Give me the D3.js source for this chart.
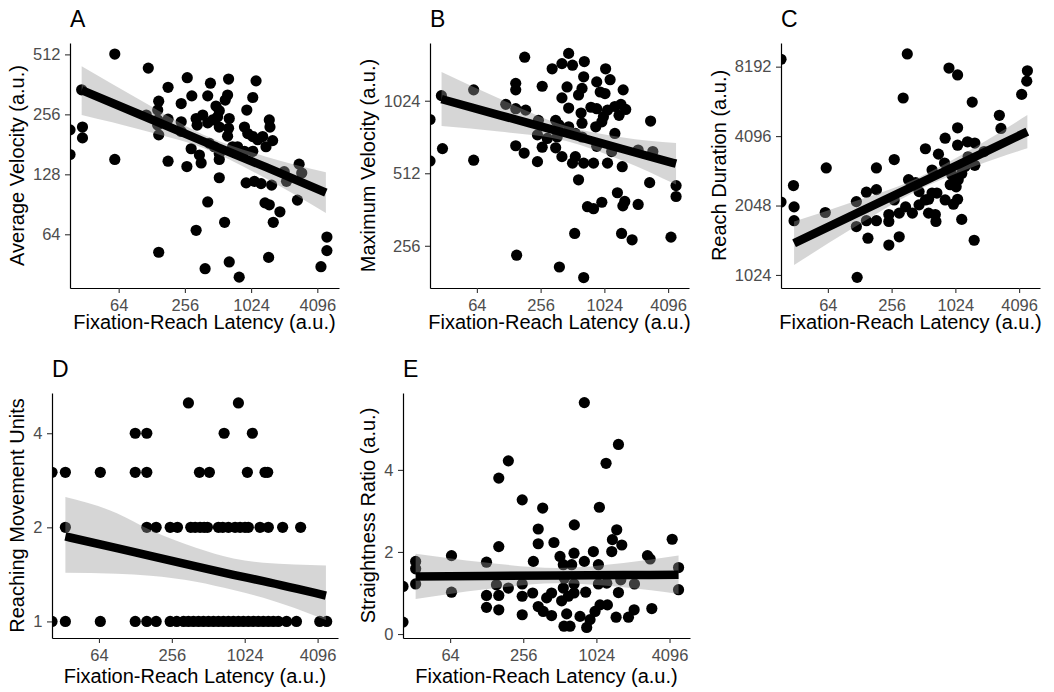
<!DOCTYPE html>
<html>
<head>
<meta charset="utf-8">
<script src="https://cdn.jsdelivr.net/npm/d3@7"></script>
<style>
  body { margin: 0; background: #fff; }
  svg { display: block; font-family: "Liberation Sans", Arial, Helvetica, sans-serif; }
</style>
</head>
<body>
<svg id="chart" width="1054" height="692"></svg>
<script>
// [latency, value] per participant; latency 0 sits on the left edge (log of 0)
const averageVelocity = [
  [59,514],[119,437],[269,391],[437,367],[639,385],[1136,377],[180,350],[29.5,340],[296,317],[413,317],
  [626,320],[596,302],[1060,311],[148,298],[145,269],[237,290],[491,282],[526,267],[936,269],[0,214],
  [0,161],[30,221],[30,195],[114,254],[145,240],[145,226],[148,202],[180,242],[237,235],[237,210],
  [324,244],[331,226],[372,254],[413,232],[458,240],[508,249],[526,221],[648,244],[639,218],[626,199],
  [891,221],[955,205],[1060,198],[1176,191],[1305,198],[1499,240],[1520,221],[1607,189],[1399,176],[59,152],
  [180,149],[267,140],[292,172],[347,160],[360,146],[428,183],[474,176],[526,163],[526,152],[526,123],
  [695,176],[771,176],[891,167],[1060,167],[923,116],[1097,118],[1261,115],[1574,113],[2048,132],[2150,118],
  [2798,144],[2957,130],[413,93],[1370,92],[1499,90],[1872,83],[1629,73.5],[588,73.5],[324,67],[2702,95],
  [5007,62],[5007,53],[4420,44],[148,52],[391,43],[648,46.5],[798,39],[1478,49]
];
const maximumVelocity = [
  [181,1552],[471,1610],[407,1460],[512,1438],[662,1489],[329,1389],[1052,1389],[1160,1252],[867,1226],[653,1287],
  [455,1168],[630,1152],[149,1209],[149,1136],[265,1176],[407,1052],[584,1082],[936,1113],[1038,1097],[1541,1136],
  [29.6,1075],[59.7,1136],[0,856],[0,576],[30.3,648],[59.7,580],[120,989],[149,949],[185,936],[244,849],
  [355,849],[471,955],[617,910],[630,826],[765,962],[867,949],[1003,879],[1097,936],[1287,969],[1468,989],
  [1629,942],[1409,891],[849,798],[969,837],[2798,843],[380,814],[471,798],[239,739],[296,714],[367,724],
  [545,749],[630,724],[1287,749],[149,666],[179,621],[265,657],[355,653],[407,600],[512,564],[545,600],
  [653,564],[809,564],[867,662],[1097,564],[1201,630],[2135,639],[2936,630],[239,572],[1510,545],[584,481],
  [2741,468],[4870,455],[4870,410],[1360,425],[1596,391],[1531,375],[2135,380],[709,372],[809,365],[969,388],
  [537,288],[1489,288],[1872,271],[4359,278],[152,234],[385,209],[653,189]
];
const reachDuration = [
  [0,8820],[360,9300],[891,8080],[1075,7540],[4904,7860],[4837,7090],[4330,6210],[329,5990],[1478,5750],[2665,5040],
  [2759,4420],[1075,4450],[820,4010],[1075,3740],[1333,3870],[1563,3820],[1911,3510],[534,3610],[709,3420],[271,3240],
  [61.8,2980],[184,2980],[617,2920],[809,3130],[949,2780],[1176,2820],[1261,3020],[1563,3060],[370,2650],[30.3,2500],
  [0,2120],[30.7,2020],[30.7,1760],[60.5,1910],[119,2130],[119,1660],[148,2340],[184,2400],[148,1760],[184,1760],
  [153,1478],[241,1872],[241,1746],[241,1380],[302,1499],[302,1898],[271,2165],[347,2020],[402,1898],[465,2062],
  [534,2165],[465,2353],[572,1898],[662,1872],[671,1746],[617,2320],[685,2320],[572,2180],[820,2165],[982,2076],
  [1075,2180],[916,2521],[1090,2650],[1042,2469],[1176,1783],[1541,1448],[1351,3330],[431,2575],[121,1000]
];
const movementUnits = [
  [351,5],[908,5],
  [127.6,4],[159,4],[692,4],[1184,4],
  [0,3],[33.8,3],[65.7,3],[127.6,3],[159,3],[433,3],[523,3],[1077,3],[1506,3],[1585,3],
  [33.8,2],[159,2],[190,2],[248,2],[285,2],[367,2],[399,2],[438,2],[473,2],[504,2],
  [621,2],[674,2],[751,2],[852,2],[937,2],[1030,2],[1097,2],[1370,2],[1605,2],[2107,2],[2966,2],
  [0,1],[33.8,1],[65.7,1],[127.6,1],[159,1],[190,1],[248,1],[281,1],[320,1],[351,1],
  [386,1],[425,1],[467,1],[514,1],[565,1],[621,1],[683,1],[751,1],[826,1],[908,1],
  [998,1],[1097,1],[1207,1],[1327,1],[1459,1],[1605,1],[1764,1],[1940,1],[2270,1],[2740,1],
  [4270,1],[4870,1]
];
const straightnessRatio = [
  [0,1.16],[0,0.29],[33.3,1.77],[33.3,1.59],[33.3,1.22],[65.7,1.91],[65.7,1.02],[127.6,1.75],[127.6,0.94],[127.6,0.65],
  [161,2.13],[161,3.8],[161,0.94],[161,0.59],[193,4.22],[193,1.12],[154,1.2],[251,3.27],[251,1.22],[251,0.92],
  [251,0.47],[310,1.77],[340,2.56],[340,2.2],[370,3.07],[306,1.0],[340,0.67],[374,0.55],[399,0.88],[438,0.45],
  [458,2.23],[438,1.0],[514,1.89],[530,0.81],[547,1.69],[558,1.36],[602,0.92],[554,0.19],[621,0.19],[583,0.49],
  [674,2.66],[670,1.97],[641,1.69],[670,1.22],[670,1.0],[751,0.43],[815,1.77],[836,1.02],[852,0.16],[908,0.35],
  [967,2.01],[998,0.55],[1064,1.69],[1084,3.09],[1064,1.22],[1097,0.71],[1230,4.16],[1246,1.24],[1262,0.71],[1370,2.01],
  [1387,2.3],[1506,2.54],[1555,4.62],[1555,1.01],[1488,0.41],[1657,2.17],[1626,1.32],[1881,0.41],[2094,0.59],[2107,1.22],
  [2697,1.91],[2836,1.83],[2928,0.62],[4308,2.31],[4861,1.62],[4861,1.08],[815,5.64],[547,1.12]
];

// fitted line and 95% band, sampled along latency
const fitLatencyA = [29.5, 106, 372, 1399, 4900];
const fitA = [339, 252, 188, 139, 103.5];
const lowerA = [254, 213, 174, 122, 81.9];
const upperA = [447, 297, 203, 157, 131];

const fitLatencyB = [29.7, 104, 439, 1488, 4867];
const fitB = [1040, 893, 751, 647, 561];
const lowerB = [804, 763, 698, 580, 460];
const upperB = [1347, 1046, 807, 723, 684];

const fitLatencyC = [30.7, 103, 432, 1561, 4898];
const fitC = [1405, 1834, 2509, 3329, 4282];
const lowerC = [1131, 1603, 2357, 3028, 3625];
const upperC = [1744, 2100, 2672, 3660, 5056];

const fitLatencyD = [33.8, 90, 170, 405, 826, 1458, 4800];
const fitD = [1.87, 1.715, 1.62, 1.50, 1.41, 1.345, 1.21];
const lowerD = [1.43, 1.42, 1.40, 1.34, 1.26, 1.19, 1.01];
const upperD = [2.50, 2.22, 1.96, 1.72, 1.59, 1.54, 1.51];

const fitLatencyE = [33.3, 120, 482, 1711, 4861];
const fitE = [1.404, 1.414, 1.425, 1.436, 1.444];
const lowerE = [0.852, 1.082, 1.239, 1.138, 0.974];
const upperE = [1.955, 1.747, 1.612, 1.733, 1.915];

const xTicks = [64, 256, 1024, 4096];
const xTitle = "Fixation-Reach Latency (a.u.)";

const panels = [
  { tag: "A", yTitle: "Average Velocity (a.u.)", points: averageVelocity,
    fit: [fitLatencyA, fitA, lowerA, upperA], yLog: true, yTicks: [64, 128, 256, 512],
    xDomain: [23.1, 6450], yDomain: [34.4, 584], box: [70, 339, 43, 288], titleY: 329, tagY: 26.7 },
  { tag: "B", yTitle: "Maximum Velocity (a.u.)", points: maximumVelocity,
    fit: [fitLatencyB, fitB, lowerB, upperB], yLog: true, yTicks: [256, 512, 1024],
    xDomain: [23.1, 6450], yDomain: [171, 1778], box: [430, 689, 43, 288], titleY: 329, tagY: 26.7 },
  { tag: "C", yTitle: "Reach Duration (a.u.)", points: reachDuration,
    fit: [fitLatencyC, fitC, lowerC, upperC], yLog: true, yTicks: [1024, 2048, 4096, 8192],
    xDomain: [23.1, 6450], yDomain: [899, 10375], box: [781, 1040, 43, 288], titleY: 329, tagY: 26.7 },
  { tag: "D", yTitle: "Reaching Movement Units", points: movementUnits,
    fit: [fitLatencyD, fitD, lowerD, upperD], yLog: true, yTicks: [1, 2, 4],
    xDomain: [26.2, 6038], yDomain: [0.885, 5.38], box: [52, 338, 393, 638], titleY: 683, tagY: 376.7 },
  { tag: "E", yTitle: "Straightness Ratio (a.u.)", points: straightnessRatio,
    fit: [fitLatencyE, fitE, lowerE, upperE], yLog: false, yTicks: [0, 2, 4],
    xDomain: [26.2, 6038], yDomain: [-0.097, 5.874], box: [403, 690, 393, 638], titleY: 683, tagY: 376.7 }
];

const svg = d3.select("#chart");
const defs = svg.append("defs");

panels.forEach((p) => {
  const [left, right, top, bottom] = p.box;
  const x = d3.scaleLog().base(2).domain(p.xDomain).range([left, right]);
  const y = (p.yLog ? d3.scaleLog().base(2) : d3.scaleLinear()).domain(p.yDomain).range([bottom, top]);
  const px = (v) => (v > 0 ? x(v) : left);

  defs.append("clipPath").attr("id", `clip-${p.tag}`)
    .append("rect").attr("x", left).attr("y", top).attr("width", right - left).attr("height", bottom - top);

  const g = svg.append("g");
  const plot = g.append("g").attr("clip-path", `url(#clip-${p.tag})`);

  plot.selectAll("circle").data(p.points).join("circle")
    .attr("cx", (d) => px(d[0]))
    .attr("cy", (d) => y(d[1]))
    .attr("r", 5.6)
    .attr("fill", "#000");

  const [fx, fy, lo, hi] = p.fit;
  const band = fx.map((v, i) => ({ x: v, fit: fy[i], lo: lo[i], hi: hi[i] }));

  plot.append("path").datum(band)
    .attr("fill", "#999999").attr("fill-opacity", 0.4)
    .attr("d", d3.area().curve(d3.curveMonotoneX).x((d) => x(d.x)).y0((d) => y(d.lo)).y1((d) => y(d.hi)));

  plot.append("path").datum(band)
    .attr("fill", "none").attr("stroke", "#000").attr("stroke-width", 8.5)
    .attr("d", d3.line().curve(d3.curveMonotoneX).x((d) => x(d.x)).y((d) => y(d.fit)));

  const xAxis = g.append("g").attr("transform", `translate(0,${bottom})`)
    .call(d3.axisBottom(x).tickValues(xTicks).tickFormat(d3.format("d")).tickSize(5).tickSizeOuter(0).tickPadding(6.5));
  const yAxis = g.append("g").attr("transform", `translate(${left},0)`)
    .call(d3.axisLeft(y).tickValues(p.yTicks).tickFormat(d3.format("d")).tickSize(5).tickSizeOuter(0).tickPadding(4.5));

  [xAxis, yAxis].forEach((a) => {
    a.attr("font-family", null).attr("font-size", null);
    a.select(".domain").attr("stroke", "#000").attr("stroke-width", 1.2);
    a.selectAll(".tick line").attr("stroke", "#333").attr("stroke-width", 1.1);
    a.selectAll(".tick text").attr("fill", "#4d4d4d").style("font-size", "16.5px");
  });

  g.append("text")
    .attr("x", (left + right) / 2).attr("y", p.titleY)
    .attr("text-anchor", "middle").style("font-size", "20px").attr("fill", "#000")
    .text(xTitle);

  let labelLeft = left;
  yAxis.selectAll(".tick text").each(function () {
    const b = this.getBBox();
    labelLeft = Math.min(labelLeft, left + b.x);
  });
  const ty = labelLeft - 9;
  g.append("text")
    .attr("transform", `translate(${ty},${(top + bottom) / 2}) rotate(-90)`)
    .attr("text-anchor", "middle").style("font-size", "20px").attr("fill", "#000")
    .text(p.yTitle);

  g.append("text")
    .attr("x", left).attr("y", p.tagY)
    .style("font-size", "23px").attr("fill", "#000")
    .text(p.tag);
});
</script>
</body>
</html>
